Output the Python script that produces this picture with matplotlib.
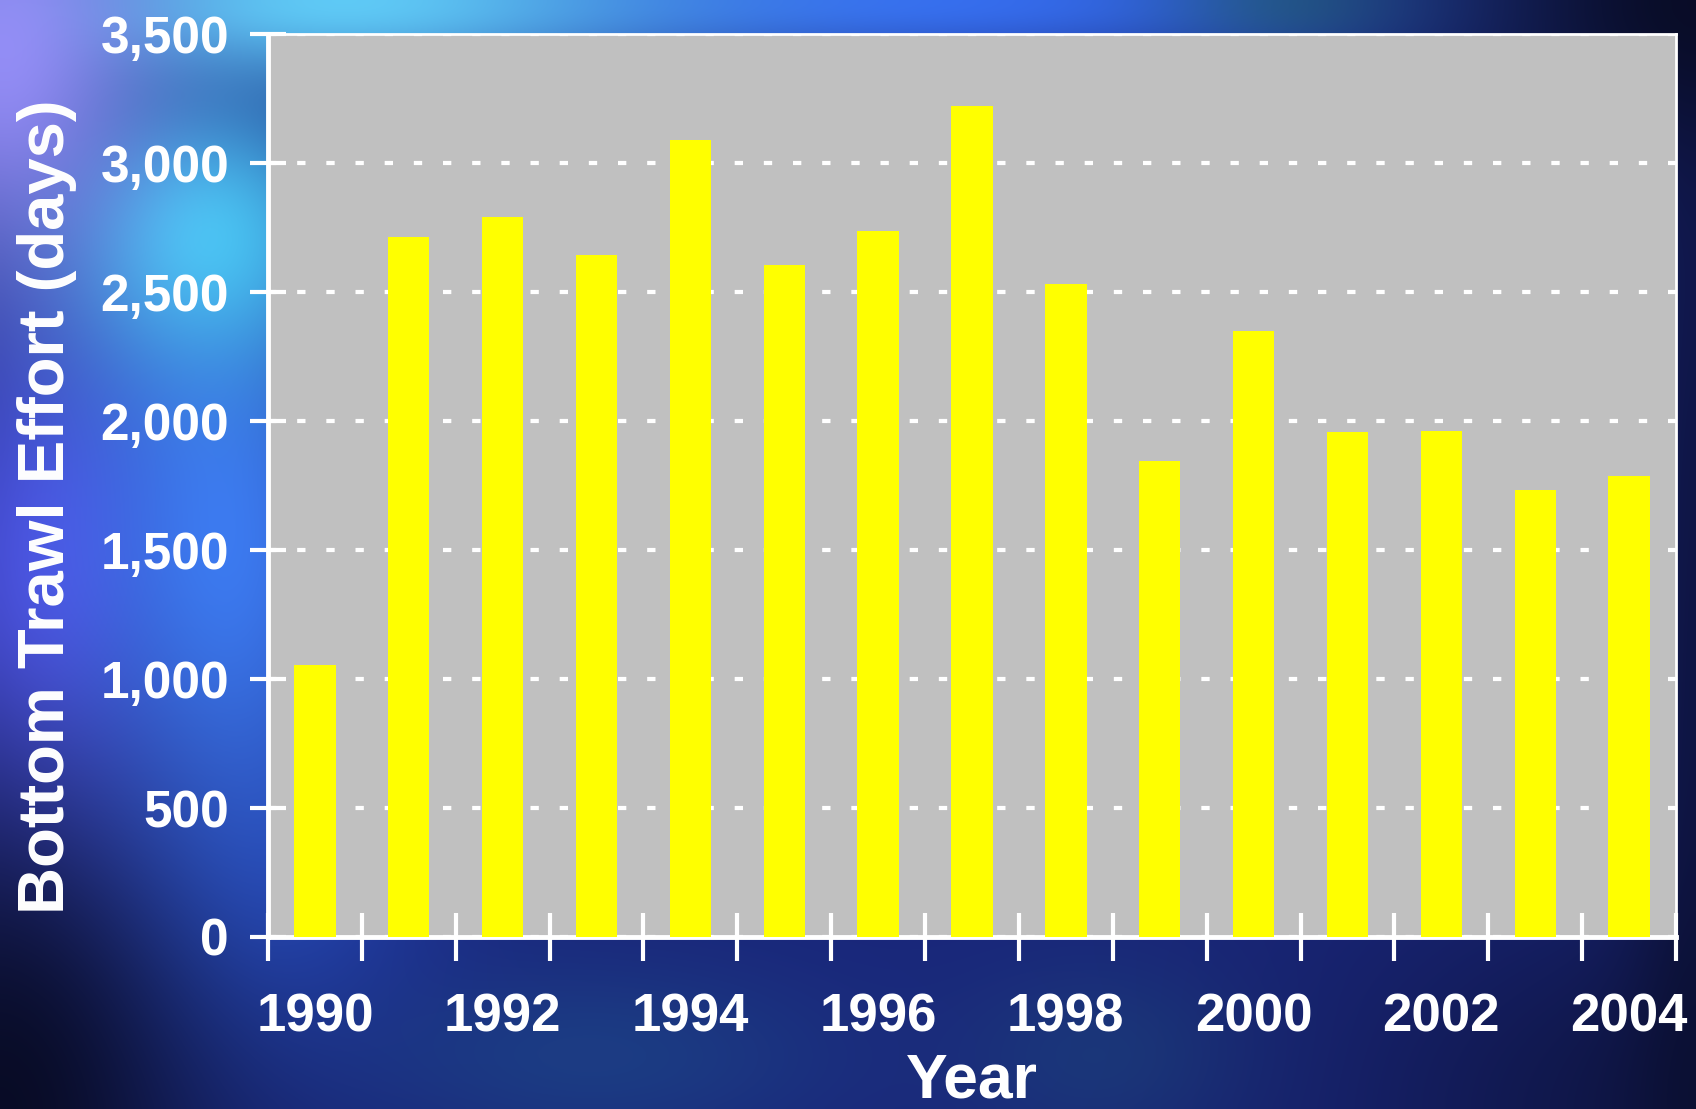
import numpy as np
import matplotlib.pyplot as plt
from matplotlib.ticker import FuncFormatter, MultipleLocator

YEARS = list(range(1990, 2005))
EFFORT_DAYS = [1056, 2712, 2792, 2645, 3089, 2603, 2737, 3219,
               2532, 1844, 2347, 1957, 1962, 1731, 1786]
YEAR_LABELS = [str(y) if y % 2 == 0 else '' for y in YEARS]

BAR_COLOR = '#FFFF00'
PLOT_BG = '#C0C0C0'
FONT = 'Liberation Sans'


def make_background(h=222, w=340):
    # soft blue "space" backdrop built from a few gaussian glows
    yy, xx = np.mgrid[0:h, 0:w]
    xx = xx / w
    yy = yy / h
    img = np.zeros((h, w, 3))
    img[:] = np.array([0.10, 0.15, 0.48])
    glows = [
        # (cx, cy, sx, sy, rgb, strength)
        (0.13, 0.78, 0.08, 0.12, (0.15, 0.30, 0.80), 0.7),
        (0.35, 0.95, 0.10, 0.06, (0.12, 0.32, 0.55), 0.5),
        (0.65, 0.95, 0.06, 0.06, (0.12, 0.32, 0.50), 0.4),
        (0.03, 0.55, 0.06, 0.18, (0.36, 0.36, 1.00), 0.9),
        (0.13, 0.50, 0.06, 0.20, (0.25, 0.52, 1.00), 0.9),
        (0.55, 0.00, 0.22, 0.04, (0.22, 0.45, 0.98), 0.9),
        (0.76, 0.00, 0.05, 0.03, (0.14, 0.40, 0.48), 0.6),
        (0.20, 0.00, 0.14, 0.05, (0.40, 0.85, 1.00), 0.9),
        (0.12, 0.21, 0.06, 0.09, (0.30, 0.86, 1.00), 0.85),
        (0.00, 0.05, 0.06, 0.14, (0.62, 0.58, 1.00), 0.9),
    ]
    for cx, cy, sx, sy, rgb, s in glows:
        g = s * np.exp(-((xx - cx) ** 2 / (2 * sx ** 2) + (yy - cy) ** 2 / (2 * sy ** 2)))
        img = img * (1 - g[..., None]) + np.array(rgb) * g[..., None]
    # darker corners and right edge
    for cx, cy, sx, sy, s in [(0.0, 1.0, 0.09, 0.22, 0.95),
                              (1.0, 0.0, 0.12, 0.10, 0.9),
                              (1.0, 0.6, 0.03, 0.6, 0.6),
                              (1.0, 1.0, 0.15, 0.15, 0.6)]:
        d = s * np.exp(-((xx - cx) ** 2 / (2 * sx ** 2) + (yy - cy) ** 2 / (2 * sy ** 2)))
        img = img * (1 - d[..., None]) + np.array([0.03, 0.04, 0.13]) * d[..., None]
    return np.clip(img, 0, 1)


fig = plt.figure(figsize=(16.96, 11.09), dpi=100)

bg = fig.add_axes([0, 0, 1, 1], zorder=-10)
bg.imshow(make_background(), aspect='auto', interpolation='bicubic', extent=[0, 1, 0, 1])
bg.axis('off')

W, H = 1696, 1109
left, right, top, bottom = 268, 1676, 34, 937
ax = fig.add_axes([left / W, 1 - bottom / H, (right - left) / W, (bottom - top) / H])
ax.set_facecolor(PLOT_BG)

x = np.arange(len(YEARS))
ax.bar(x, EFFORT_DAYS, width=0.44, color=BAR_COLOR, zorder=3)

ax.set_xlim(-0.5, len(YEARS) - 0.5)
ax.set_ylim(0, 3500)
ax.yaxis.set_major_locator(MultipleLocator(500))
ax.yaxis.set_major_formatter(FuncFormatter(lambda v, p: f'{int(v):,}'))

# category ticks sit between the bars, labels under the bars
ax.set_xticks(np.arange(-0.5, len(YEARS) + 0.5, 1))
ax.set_xticklabels([])
ax.set_xticks(x, minor=True)
ax.set_xticklabels(YEAR_LABELS, minor=True)
ax.tick_params(axis='x', which='minor', length=0, pad=40)
ax.tick_params(axis='x', which='major', direction='inout', length=34, width=3, color='white')
ax.tick_params(axis='y', direction='inout', length=26, width=3, color='white', pad=15)

for lbl in ax.get_xticklabels(minor=True):
    lbl.set_fontfamily(FONT)
    lbl.set_fontweight('bold')
    lbl.set_fontsize(38)
    lbl.set_color('white')
for lbl in ax.get_yticklabels():
    lbl.set_fontfamily(FONT)
    lbl.set_fontweight('bold')
    lbl.set_fontsize(37)
    lbl.set_color('white')

ax.grid(axis='y', color='white', linestyle=(0, (2, 5)), linewidth=3, zorder=1)
ax.set_axisbelow(True)

for side in ['left', 'bottom']:
    ax.spines[side].set_color('white')
    ax.spines[side].set_linewidth(3.5)
for side in ['top', 'right']:
    ax.spines[side].set_color('white')
    ax.spines[side].set_linewidth(2)

ax.set_ylabel('Bottom Trawl Effort (days)', fontfamily=FONT, fontweight='bold',
              fontsize=47, color='white')
ax.yaxis.set_label_coords(-0.136, 0.477)
ax.set_xlabel('Year', fontfamily=FONT, fontweight='bold', fontsize=45, color='white')
ax.xaxis.set_label_coords(0.5, -0.127)

fig.savefig('out.png', dpi=100)
